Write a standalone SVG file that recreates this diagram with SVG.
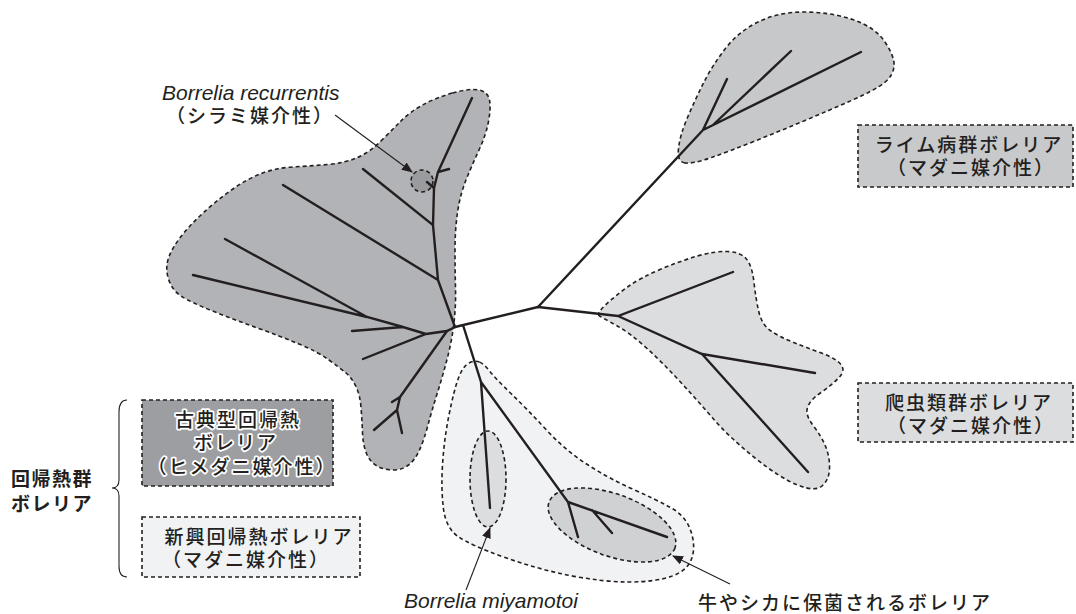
<svg xmlns="http://www.w3.org/2000/svg" width="1076" height="614" viewBox="0 0 1076 614">
<style>
.bl{stroke:#231f20;stroke-width:1.6;stroke-dasharray:4 3}
.tr{stroke:#231f20;stroke-width:2.4;stroke-linecap:round;fill:none}
.ar{stroke:#231f20;stroke-width:1.1;fill:none}
.jp{font-family:"Noto Sans CJK JP","Noto Sans CJK SC",sans-serif;font-size:19px;font-weight:500;fill:#231f20;letter-spacing:2px}
.jp.b{font-weight:700;letter-spacing:1.5px}
.it{font-family:"Liberation Sans",Arial,sans-serif;font-style:italic;font-size:21px;fill:#231f20}
.halo{stroke:#fff;stroke-width:3.5;paint-order:stroke;stroke-linejoin:round}
</style>
<defs>
<marker id="ah" markerWidth="11" markerHeight="9" refX="10" refY="4.5" orient="auto" markerUnits="userSpaceOnUse">
<path d="M0,0 L11,4.5 L0,9 z" fill="#231f20"/>
</marker>
</defs>

<g id="classic-blob">
<path class="bl" fill="#b2b3b6" d="M452.5,93 Q470,88 479,90 Q488,92 489.5,100 Q491,108 488.5,121.5 Q486,135 479,150 Q472,165 466,180 Q460,195 457.5,212.5 Q455,230 455,250 Q455,270 455.5,287.5 Q456,305 454,322.5 Q452,340 447.5,357.5 Q443,375 437.5,392.5 Q432,410 428,425 Q424,440 419.5,450 Q415,460 408.5,465 Q402,470 393,470 Q384,470 377,466 Q370,462 366.5,453.5 Q363,445 362.5,432.5 Q362,420 361,407.5 Q360,395 356,386.5 Q352,378 346,373 Q340,368 329,360 Q318,352 299,344 Q280,336 257.5,328 Q235,320 212.5,311 Q190,302 181,296 Q172,290 168.5,279 Q165,268 168.5,258 Q172,248 181,236.5 Q190,225 202.5,213.5 Q215,202 230,191 Q245,180 260,174 Q275,168 292.5,167 Q310,166 327.5,164.5 Q345,163 357.5,157.5 Q370,152 381,141 Q392,130 401,121 Q410,112 422.5,105 Q435,98 452.5,93 Z"/>
<circle class="bl" cx="422" cy="181" r="11" fill="#9a9b9e"/>
</g>

<g id="lyme-blob">
<path class="bl" fill="#c7c8ca" d="M685,163 Q677,162 678.5,148.5 Q680,135 687.5,117.5 Q695,100 703.5,83 Q712,66 725,49 Q738,32 758,22 Q778,12 804,12 Q830,12 852.5,19.5 Q875,27 885,42 Q895,57 894,66.5 Q893,76 884,83 Q875,90 852.5,100 Q830,110 805,120.5 Q780,131 755,141 Q730,151 711.5,157.5 Q693,164 685,163 Z"/>
</g>

<g id="reptile-blob">
<path class="bl" fill="#dcdddf" d="M599.5,316 Q596,314 605.5,305 Q615,296 627.5,287 Q640,278 660,269.5 Q680,261 697.5,256 Q715,251 727.5,251.5 Q740,252 746,258.5 Q752,265 754,282.5 Q756,300 759,312.5 Q762,325 771,331 Q780,337 792.5,342 Q805,347 820,352.5 Q835,358 840.5,364 Q846,370 839,377.5 Q832,385 821,392.5 Q810,400 807.5,407.5 Q805,415 813.5,426 Q822,437 826,447.5 Q830,458 829.5,469 Q829,480 822,486 Q815,492 797.5,485 Q780,478 755,458 Q730,438 713.5,419 Q697,400 680,381.5 Q663,363 646.5,348 Q630,333 616.5,325.5 Q603,318 599.5,316 Z"/>
</g>

<g id="new-rf-blob">
<path class="bl" fill="#f1f2f3" d="M479.5,362 Q475,360 469,363 Q463,366 458.5,378 Q454,390 449,415 Q444,440 442.5,465 Q441,490 443.5,509 Q446,528 458,536.5 Q470,545 503.5,557 Q537,569 570,575.5 Q603,582 629,582 Q655,582 671,576.5 Q687,571 691.5,559 Q696,547 691,531.5 Q686,516 670.5,507.5 Q655,499 631.5,488.5 Q608,478 586.5,464 Q565,450 546.5,430 Q528,410 511.5,394 Q495,378 489.5,371 Q484,364 479.5,362 Z"/>
<ellipse id="miyamotoi-ellipse" class="bl" cx="488" cy="479" rx="18" ry="48" fill="#dcdddf"/>
<ellipse id="cattle-ellipse" class="bl" cx="612" cy="525" rx="67" ry="31" fill="#d0d1d3" transform="rotate(20 612 525)"/>
</g>

<g id="tree" class="tr">
<path d="M538,307 L703,130 M703,130 L727,79 M703,130 L861,52 M713,125 L791,51"/>
<path d="M538,307 L618,316 L733,272 M618,316 L702,354 L815,373 M702,354 L808,472"/>
<path d="M538,307 L455,327 M463,325 L481,382 L490,508 M481,382 L568,502 L578,537 M568,502 L667,537 M592,510 L612,533"/>
<path d="M455,327 L438,280 L283,185 M438,280 L433,225 L363,169 M433,225 L434,188 L427,182 M434,188 L438,172 L449,169 M438,172 L472,98"/>
<path d="M455,327 L447,331 L426,334 L363,359 M426,334 L403,327 L352,331 M403,327 L367,317 L225,239 M367,317 L193,275"/>
<path d="M447,331 L400,397 L392,402 M400,397 L397,410 L374,430 M397,410 L402,433"/>
</g>

<g id="connectors">
<line class="ar" x1="335" y1="115" x2="412" y2="172" marker-end="url(#ah)"/>
<line class="ar" x1="466" y1="590" x2="490" y2="528" marker-end="url(#ah)"/>
<line class="ar" x1="730" y1="584" x2="673" y2="556" marker-end="url(#ah)"/>
<path class="ar" d="M127,400 Q119,400 119,412 L119,480 Q119,488 112,488 Q119,488 119,496 L119,566 Q119,577 127,577"/>
</g>

<g id="label-recurrentis">
<text class="it" x="162" y="100">Borrelia recurrentis</text>
<text class="jp" x="250" y="123" text-anchor="middle">（シラミ媒介性）</text>
</g>

<g id="box-lyme">
<rect class="bl" x="858" y="125" width="215" height="62" fill="#c8c9cb"/>
<text class="jp" x="969" y="152" text-anchor="middle">ライム病群ボレリア</text>
<text class="jp" x="971" y="175" text-anchor="middle">（マダニ媒介性）</text>
</g>

<g id="box-reptile">
<rect class="bl" x="858" y="383" width="215" height="59" fill="#dcdddf"/>
<text class="jp" x="969" y="410" text-anchor="middle">爬虫類群ボレリア</text>
<text class="jp" x="971" y="433" text-anchor="middle">（マダニ媒介性）</text>
</g>

<g id="box-classic">
<rect class="bl" x="142" y="400" width="191" height="86" fill="#9d9ea1"/>
<text class="jp halo" x="238" y="427" text-anchor="middle">古典型回帰熱</text>
<text class="jp halo" x="236" y="450" text-anchor="middle">ボレリア</text>
<text class="jp halo" x="242" y="474" text-anchor="middle">（ヒメダニ媒介性）</text>
</g>

<g id="box-new">
<rect class="bl" x="142" y="517" width="218" height="60" fill="#f1f2f3"/>
<text class="jp" x="259" y="544" text-anchor="middle">新興回帰熱ボレリア</text>
<text class="jp" x="246" y="567" text-anchor="middle">（マダニ媒介性）</text>
</g>

<g id="label-group">
<text class="jp b" x="11" y="486">回帰熱群</text>
<text class="jp b" x="11" y="511">ボレリア</text>
</g>

<g id="label-miyamotoi">
<text class="it" x="404" y="608">Borrelia miyamotoi</text>
</g>

<g id="label-cattle">
<text class="jp" x="698" y="610">牛やシカに保菌されるボレリア</text>
</g>
</svg>
